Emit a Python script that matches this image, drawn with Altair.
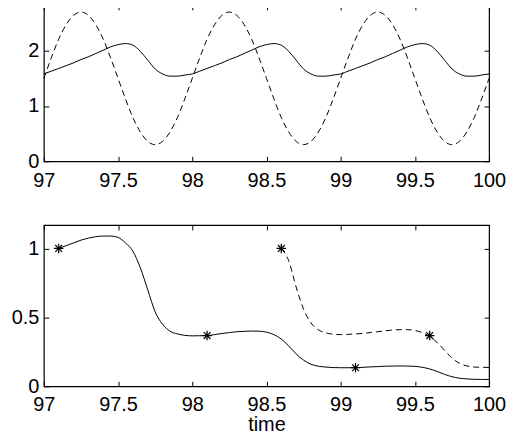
import altair as alt
import pandas as pd

FONT = "Liberation Sans"
FS = 20

# ---------------- data ----------------
x_ticks = [97, 97.5, 98, 98.5, 99, 99.5, 100]
top_y_ticks = [0, 1, 2]
bot_y_ticks = [0, 0.5, 1]

t_top = [97.00, 97.05, 97.10, 97.15, 97.20, 97.25, 97.30, 97.35, 97.40, 97.45,
         97.50, 97.55, 97.60, 97.65, 97.70, 97.75, 97.80, 97.85, 97.90, 97.95,
         98.00, 98.05, 98.10, 98.15, 98.20, 98.25, 98.30, 98.35, 98.40, 98.45,
         98.50, 98.55, 98.60, 98.65, 98.70, 98.75, 98.80, 98.85, 98.90, 98.95,
         99.00, 99.05, 99.10, 99.15, 99.20, 99.25, 99.30, 99.35, 99.40, 99.45,
         99.50, 99.55, 99.60, 99.65, 99.70, 99.75, 99.80, 99.85, 99.90, 99.95,
         100.00]
top_solid = [1.58, 1.63, 1.68, 1.73, 1.78, 1.84, 1.89, 1.95, 2.01, 2.07,
             2.11, 2.13, 2.10, 1.99, 1.83, 1.67, 1.58, 1.54, 1.54, 1.56,
             1.58, 1.63, 1.68, 1.73, 1.78, 1.84, 1.89, 1.95, 2.01, 2.07,
             2.11, 2.13, 2.10, 1.99, 1.83, 1.67, 1.58, 1.54, 1.54, 1.56,
             1.58, 1.63, 1.68, 1.73, 1.78, 1.84, 1.89, 1.95, 2.01, 2.07,
             2.11, 2.13, 2.10, 1.99, 1.83, 1.67, 1.58, 1.54, 1.54, 1.56,
             1.58]
top_dashed = [1.50, 1.87, 2.21, 2.47, 2.64, 2.70, 2.64, 2.47, 2.21, 1.87,
              1.50, 1.13, 0.79, 0.53, 0.36, 0.30, 0.36, 0.53, 0.79, 1.13,
              1.50, 1.87, 2.21, 2.47, 2.64, 2.70, 2.64, 2.47, 2.21, 1.87,
              1.50, 1.13, 0.79, 0.53, 0.36, 0.30, 0.36, 0.53, 0.79, 1.13,
              1.50, 1.87, 2.21, 2.47, 2.64, 2.70, 2.64, 2.47, 2.21, 1.87,
              1.50, 1.13, 0.79, 0.53, 0.36, 0.30, 0.36, 0.53, 0.79, 1.13,
              1.50]

t_bot_solid = [97.10, 97.15, 97.20, 97.25, 97.30, 97.35, 97.40, 97.45, 97.50, 97.55,
               97.60, 97.65, 97.70, 97.75, 97.80, 97.85, 97.90, 97.95, 98.00, 98.05,
               98.10, 98.15, 98.20, 98.25, 98.30, 98.35, 98.40, 98.45, 98.50, 98.55,
               98.60, 98.65, 98.70, 98.75, 98.80, 98.85, 98.90, 98.95, 99.00, 99.05,
               99.10, 99.15, 99.20, 99.25, 99.30, 99.35, 99.40, 99.45, 99.50, 99.55,
               99.60, 99.65, 99.70, 99.75, 99.80, 99.85, 99.90, 99.95, 100.00]
bot_solid = [1.00, 1.02, 1.04, 1.06, 1.075, 1.085, 1.09, 1.09, 1.08, 1.04,
             0.98, 0.86, 0.70, 0.54, 0.45, 0.40, 0.38, 0.37, 0.366, 0.367,
             0.368, 0.375, 0.383, 0.390, 0.396, 0.399, 0.401, 0.400, 0.393, 0.375,
             0.343, 0.293, 0.235, 0.190, 0.160, 0.146, 0.140, 0.136, 0.135, 0.135,
             0.135, 0.138, 0.141, 0.143, 0.146, 0.147, 0.148, 0.147, 0.145, 0.138,
             0.126, 0.108, 0.087, 0.070, 0.059, 0.054, 0.051, 0.050, 0.050]

t_bot_dashed = [98.60, 98.65, 98.70, 98.75, 98.80, 98.85, 98.90, 98.95, 99.00, 99.05,
                99.10, 99.15, 99.20, 99.25, 99.30, 99.35, 99.40, 99.45, 99.50, 99.55,
                99.60, 99.65, 99.70, 99.75, 99.80, 99.85, 99.90, 99.95, 100.00]
bot_dashed = [1.00, 0.91, 0.72, 0.56, 0.46, 0.41, 0.388, 0.378, 0.375, 0.377,
              0.380, 0.384, 0.390, 0.396, 0.403, 0.408, 0.411, 0.411, 0.405, 0.390,
              0.362, 0.318, 0.262, 0.205, 0.168, 0.148, 0.140, 0.138, 0.137]

star_t = [97.1, 98.1, 99.1, 98.6, 99.6]
star_v = [1.0, 0.368, 0.135, 1.0, 0.368]

# ---------------- helpers ----------------
ASTERISK = "M-1,0L1,0M0,-1L0,1M-0.72,-0.72L0.72,0.72M-0.72,0.72L0.72,-0.72"
DASH = [6, 4]


def label_axis(values, orient, pad, title=None):
    kw = dict(values=values, orient=orient, format="~g", tickSize=5, offset=-5,
              domain=False, grid=False, tickColor="black", tickWidth=1,
              labelFont=FONT, labelFontSize=FS, labelColor="black",
              labelPadding=pad, labelFlush=False, labelOverlap=False)
    if title is not None:
        kw.update(title=title, titleFont=FONT, titleFontSize=FS,
                  titleFontWeight="normal", titleColor="black", titlePadding=0)
    return alt.Axis(**kw)


def tick_axis(values, orient):
    return alt.Axis(values=values, orient=orient, tickSize=5, offset=-5,
                    domain=False, grid=False, labels=False, tickColor="black",
                    tickWidth=1)


xscale = alt.Scale(domain=[97, 100], nice=False, zero=False)
W = 447

# ---------------- top panel ----------------
df_top = pd.DataFrame({"t": t_top, "solid": top_solid, "dashed": top_dashed})
yscale_top = alt.Scale(domain=[0, 2.83], nice=False)

top_solid_layer = alt.Chart(df_top).mark_line(
    interpolate="monotone", color="black", strokeWidth=1
).encode(
    x=alt.X("t:Q", scale=xscale, axis=label_axis(x_ticks, "bottom", 9), title=None),
    y=alt.Y("solid:Q", scale=yscale_top, axis=label_axis(top_y_ticks, "left", 5), title=None),
)
top_dashed_layer = alt.Chart(df_top).mark_line(
    interpolate="monotone", color="black", strokeWidth=1, strokeDash=DASH
).encode(
    x=alt.X("t:Q", scale=xscale, axis=tick_axis(x_ticks, "top"), title=None),
    y=alt.Y("dashed:Q", scale=yscale_top, axis=tick_axis(top_y_ticks, "right"), title=None),
)
top = alt.layer(top_solid_layer, top_dashed_layer).resolve_axis(
    x="independent", y="independent"
).properties(width=W, height=157)

# ---------------- bottom panel ----------------
df_bs = pd.DataFrame({"t": t_bot_solid, "v": bot_solid})
df_bd = pd.DataFrame({"t": t_bot_dashed, "v": bot_dashed})
df_st = pd.DataFrame({"t": star_t, "v": star_v})
yscale_bot = alt.Scale(domain=[0, 1.17], nice=False)

bot_solid_layer = alt.Chart(df_bs).mark_line(
    interpolate="monotone", color="black", strokeWidth=1
).encode(
    x=alt.X("t:Q", scale=xscale, axis=label_axis(x_ticks, "bottom", 8, title="time")),
    y=alt.Y("v:Q", scale=yscale_bot, axis=label_axis(bot_y_ticks, "left", 5), title=None),
)
bot_dashed_layer = alt.Chart(df_bd).mark_line(
    interpolate="monotone", color="black", strokeWidth=1, strokeDash=DASH
).encode(
    x=alt.X("t:Q", scale=xscale, axis=tick_axis(x_ticks, "top"), title=None),
    y=alt.Y("v:Q", scale=yscale_bot, axis=tick_axis(bot_y_ticks, "right"), title=None),
)
star_layer = alt.Chart(df_st).mark_point(
    shape=ASTERISK, size=90, filled=False, color="black", strokeWidth=1.2, opacity=1
).encode(
    x=alt.X("t:Q", scale=xscale, axis=None),
    y=alt.Y("v:Q", scale=yscale_bot, axis=None),
)
bottom = alt.layer(bot_solid_layer, bot_dashed_layer, star_layer).resolve_axis(
    x="independent", y="independent"
).properties(width=W, height=162)

chart = alt.vconcat(top, bottom, spacing=32).properties(
    padding={"left": 2, "top": -6, "right": -1, "bottom": 0},
    background="white",
).configure_view(stroke="black", strokeWidth=1.2)

chart.save("out.html", embed_options={"renderer": "svg", "actions": False})
